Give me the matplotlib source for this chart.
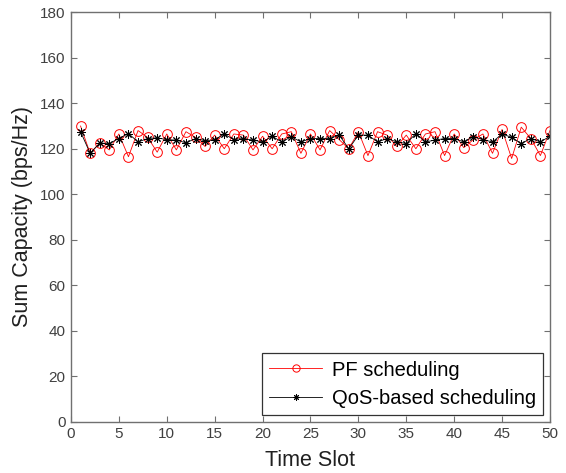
import numpy as np
import matplotlib.pyplot as plt

plt.rcParams['font.family'] = ['Liberation Sans', 'DejaVu Sans']

slots = np.arange(1, 51)
pf_capacity = [130, 118, 122.5, 119.5, 126.5, 116.5, 128, 125, 118.5, 126.5,
               119.5, 127.5, 125, 121, 126, 120, 126.5, 126, 119.5, 125.5,
               120, 126.5, 127.5, 118, 126.5, 119.5, 128, 124, 120, 127.5,
               117, 127.5, 126, 121, 126, 120, 126.5, 127.5, 117, 126.5,
               120.5, 124, 126.5, 118, 128.5, 115.7, 129.5, 124.5, 117, 128]
qos_capacity = [127.5, 118, 122.5, 122.3, 124.5, 126.7, 123, 124.5, 124.8, 124,
                123.8, 122.6, 124.5, 123.5, 124, 126.5, 124, 124.5, 123.8, 123,
                125.5, 123, 125.3, 123, 124.5, 124.5, 124.5, 126, 120, 126,
                126, 123, 124.5, 123, 122.3, 126.7, 123, 123.8, 124.5, 124.5,
                123, 125.3, 124, 123, 126.5, 125, 122.3, 124.5, 123, 125.5]

fig = plt.figure(figsize=(5.66, 4.73), dpi=100)
ax = fig.add_axes([0.1254, 0.1085, 0.8463, 0.8655])

ax.plot(slots, pf_capacity, color='red', lw=0.6, marker='o', ms=7,
        mfc='none', mec='red', mew=0.7, label='PF scheduling')
ax.plot(slots, qos_capacity, color='black', lw=0.6, marker=(8, 2, 0), ms=6,
        mew=0.7, label='QoS-based scheduling')

ax.set_xlim(0, 50)
ax.set_ylim(0, 180)
ax.set_xticks(np.arange(0, 51, 5))
ax.set_yticks(np.arange(0, 181, 20))

axis_grey = '#707070'
for s in ax.spines.values():
    s.set_color(axis_grey)
    s.set_linewidth(1.0)
ax.tick_params(direction='in', length=4, color=axis_grey, labelcolor='#404040',
               labelsize=11, top=True, right=True, pad=4)

ax.set_xlabel('Time Slot', fontsize=15.5, color='#202020', labelpad=6)
ax.set_ylabel('Sum Capacity (bps/Hz)', fontsize=15.5, color='#202020', labelpad=5)

leg = ax.legend(loc='lower right', fontsize=14.5, frameon=True, fancybox=False,
                edgecolor='black', handlelength=2.6, borderpad=0.35,
                labelspacing=0.45, borderaxespad=0.35, handletextpad=0.5,
                markerscale=0.75)
leg.get_frame().set_linewidth(0.9)

fig.savefig('out.png', dpi=100)
